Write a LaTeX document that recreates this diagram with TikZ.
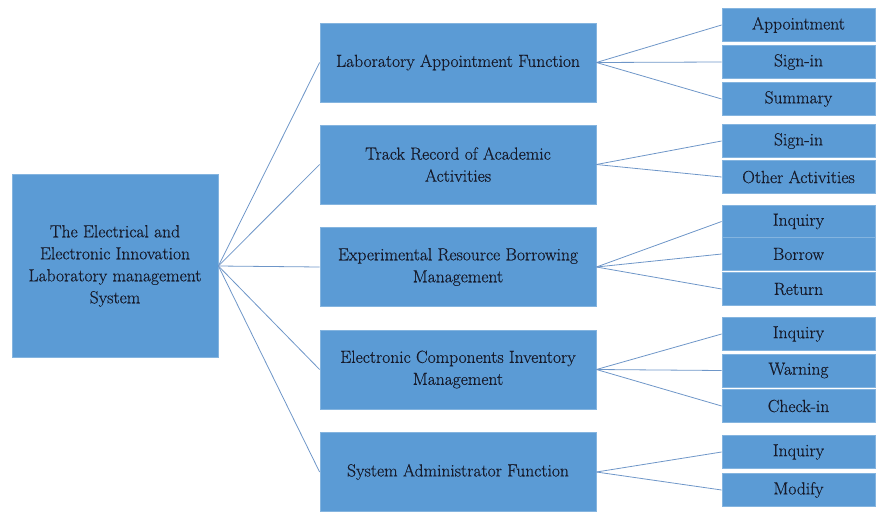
\documentclass[tikz,border=0pt]{standalone}
\usepackage{fontspec}
\newfontfamily\boxfont{Latin Modern Roman}[FakeBold=0.5]
\definecolor{boxblue}{RGB}{91,155,213}
\definecolor{linkblue}{RGB}{110,150,200}
\definecolor{txtnavy}{RGB}{22,26,42}
\tikzset{
    sysbox/.style={fill=boxblue, draw=boxblue!75!white, line width=0.8pt,
        text=txtnavy, align=center, inner sep=0pt,
        font=\boxfont\fontsize{17.5}{22}\selectfont},
    rootbox/.style={sysbox, minimum width=206pt, minimum height=183pt},
    funcbox/.style={sysbox, minimum width=276pt, minimum height=79pt},
    leafbox/.style={sysbox, minimum width=153pt, minimum height=33pt},
    link/.style={draw=linkblue, line width=0.8pt}
}

\begin{document}
\begin{tikzpicture}[x=1pt, y=-1pt]
    \useasboundingbox (0,0) rectangle (877,511);

    % system and its five functions
    \node[rootbox] (root) at (115,266) {The Electrical and\\Electronic Innovation\\Laboratory management\\System};
    \node[funcbox] (m1) at (458,62.5) {Laboratory Appointment Function};
    \node[funcbox] (m2) at (458,164.5) {Track Record of Academic\\Activities};
    \node[funcbox] (m3) at (458,267) {Experimental Resource Borrowing\\Management};
    \node[funcbox] (m4) at (458,369.5) {Electronic Components Inventory\\Management};
    \node[funcbox] (m5) at (458,472) {System Administrator Function};

    % sub-functions
    \node[leafbox] (l11) at (798.5,25) {Appointment};
    \node[leafbox] (l12) at (798.5,62) {Sign-in};
    \node[leafbox] (l13) at (798.5,99) {Summary};
    \node[leafbox] (l21) at (798.5,141) {Sign-in};
    \node[leafbox] (l22) at (798.5,177) {Other Activities};
    \node[leafbox] (l31) at (798.5,221.5) {Inquiry};
    \node[leafbox] (l32) at (798.5,254) {Borrow};
    \node[leafbox] (l33) at (798.5,289) {Return};
    \node[leafbox] (l41) at (798.5,334) {Inquiry};
    \node[leafbox] (l42) at (798.5,370.5) {Warning};
    \node[leafbox] (l43) at (798.5,406) {Check-in};
    \node[leafbox] (l51) at (798.5,452) {Inquiry};
    \node[leafbox] (l52) at (798.5,490) {Modify};

    \foreach \m in {m1,m2,m3,m4,m5} {
        \draw[link] (root.east) -- (\m.west);
    }
    \foreach \m/\l in {m1/l11, m1/l12, m1/l13, m2/l21, m2/l22,
                       m3/l31, m3/l32, m3/l33, m4/l41, m4/l42, m4/l43,
                       m5/l51, m5/l52} {
        \draw[link] (\m.east) -- (\l.west);
    }
\end{tikzpicture}
\end{document}
